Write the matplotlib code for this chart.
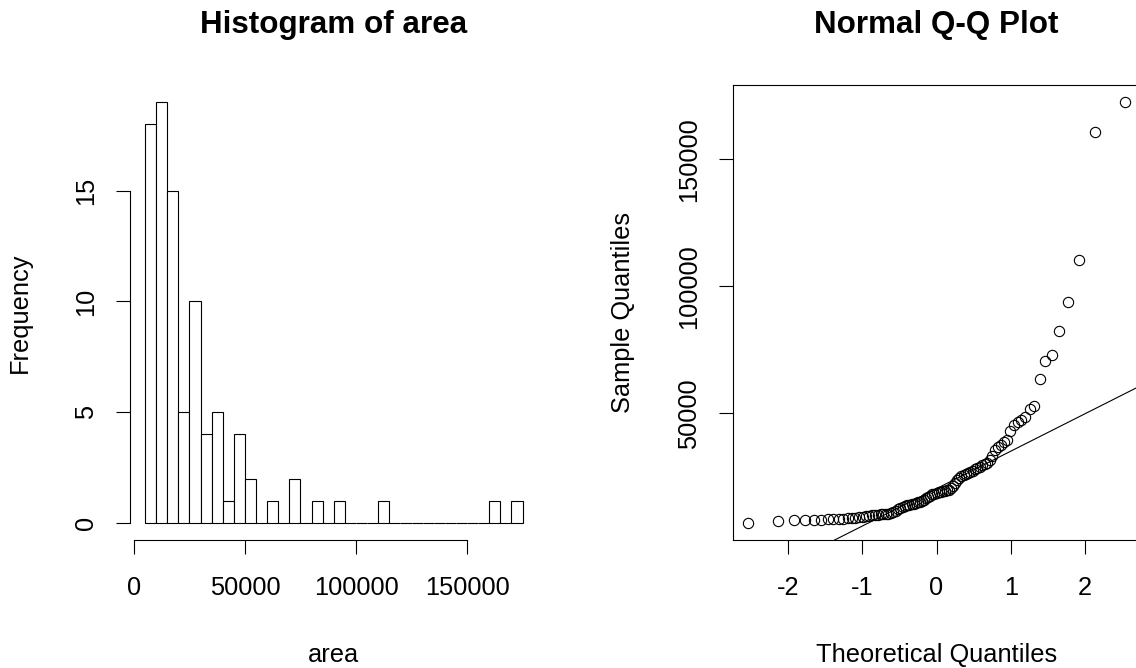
import numpy as np
import matplotlib.pyplot as plt
from statistics import NormalDist

area = [6700, 7500, 7800, 7900, 8000, 8100, 8200, 8300, 8400, 8500,
        8700, 8800, 8900, 9000, 9200, 9400, 9600, 9800,
        10050, 10100, 10150, 10250, 10300, 10400, 10700, 11100, 11600, 12100,
        12600, 13000, 13400, 13700, 14000, 14200, 14400, 14600, 14900,
        15200, 15600, 16000, 16500, 17000, 17500, 18000, 18300, 18600, 18800,
        19000, 19200, 19400, 19600, 19800,
        20500, 21500, 22500, 23500, 24600,
        25200, 25700, 26100, 26600, 27000, 27400, 27900, 28400, 28900, 29500,
        30050, 30400, 31500, 33200,
        35500, 36500, 37500, 38500, 39600,
        43000,
        45500, 46500, 47500, 48500,
        51800, 52800,
        63400, 70600, 73000, 82200, 93900, 110500, 160700, 172600]
breaks = np.arange(5000, 180000, 5000)
hist_xticks = [0, 50000, 100000, 150000]
hist_yticks = [0, 5, 10, 15]
qq_xticks = [-2, -1, 0, 1, 2]
qq_yticks = [50000, 100000, 150000]

plt.rcParams['font.family'] = ['Liberation Sans', 'DejaVu Sans']
plt.rcParams['axes.unicode_minus'] = False

FS = 18.3
LW = 0.8


def r_range(lo, hi):
    # R style 4% axis extension
    d = (hi - lo) * 0.04
    return lo - d, hi + d


def style_axis(ax, xpad=15.5, ypad=12.5):
    ax.tick_params(direction='out', length=10.4, width=LW, labelsize=FS,
                   colors='black')
    ax.tick_params(axis='x', pad=xpad)
    ax.tick_params(axis='y', pad=ypad)
    for lab in ax.get_yticklabels():
        lab.set_rotation(90)
        lab.set_va('center')
    ax.xaxis.set_label_coords(0.5, -0.2253)
    ax.yaxis.set_label_coords(-0.24, 0.5)


fig = plt.figure(figsize=(11.36, 6.68), dpi=100)
ax1 = fig.add_axes([130 / 1136, 128 / 668, 407.6 / 1136, 455 / 668])
ax2 = fig.add_axes([732.7 / 1136, 128 / 668, 407.6 / 1136, 455 / 668])

# histogram
counts, _, _ = ax1.hist(area, bins=breaks, color='white', edgecolor='black',
                        linewidth=LW)
ax1.set_xlim(*r_range(breaks[0], breaks[-1]))
ax1.set_ylim(*r_range(0, counts.max()))
ax1.set_xticks(hist_xticks)
ax1.set_yticks(hist_yticks)
ax1.spines['top'].set_visible(False)
ax1.spines['right'].set_visible(False)
ax1.spines['left'].set_bounds(hist_yticks[0], hist_yticks[-1])
ax1.spines['bottom'].set_bounds(hist_xticks[0], hist_xticks[-1])
for s in ax1.spines.values():
    s.set_linewidth(LW)
ax1.set_title('Histogram of area', fontsize=22.6, fontweight='bold', pad=37.4)
ax1.set_xlabel('area', fontsize=FS)
ax1.set_ylabel('Frequency', fontsize=FS)
style_axis(ax1)

# normal Q-Q plot
n = len(area)
nd = NormalDist()
theo = [nd.inv_cdf((i + 0.5) / n) for i in range(n)]
ax2.plot(theo, area, linestyle='none', marker='o', markersize=7.4,
         markerfacecolor='none', markeredgecolor='black', markeredgewidth=LW)
q1, q3 = np.quantile(area, [0.25, 0.75])
z1, z3 = nd.inv_cdf(0.25), nd.inv_cdf(0.75)
slope = (q3 - q1) / (z3 - z1)
ax2.axline((z1, q1), slope=slope, color='black', linewidth=LW)
ax2.set_xlim(*r_range(min(theo), max(theo)))
ax2.set_ylim(*r_range(min(area), max(area)))
ax2.set_xticks(qq_xticks)
ax2.set_yticks(qq_yticks)
for s in ax2.spines.values():
    s.set_linewidth(LW)
ax2.set_title('Normal Q-Q Plot', fontsize=22.6, fontweight='bold', pad=37.4)
ax2.set_xlabel('Theoretical Quantiles', fontsize=FS)
ax2.set_ylabel('Sample Quantiles', fontsize=FS)
style_axis(ax2)

fig.savefig('out.png', dpi=100, facecolor='white')
